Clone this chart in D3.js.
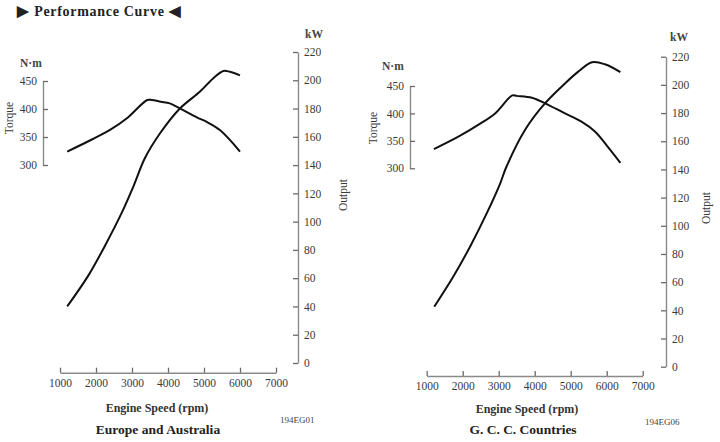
<!DOCTYPE html>
<html>
<head>
<meta charset="utf-8">
<script src="https://cdn.jsdelivr.net/npm/d3@7"></script>
<style>
  html, body { margin: 0; padding: 0; background: #fff; }
  svg { display: block; }
  text { font-family: "Liberation Serif", "Times New Roman", serif; fill: #3a3a3a; }
</style>
</head>
<body>
<svg id="chart" width="720" height="442"></svg>
<script>
// ---------- data ----------
const rpmTicks = [1000, 2000, 3000, 4000, 5000, 6000, 7000];
const torqueTicks = [300, 350, 400, 450];
const outputTicks = [0, 20, 40, 60, 80, 100, 120, 140, 160, 180, 200, 220];

// Europe and Australia
const euTorqueRpm = [1200, 1900, 2400, 2850, 3425, 3550, 3800, 4050, 4330, 4800, 5075, 5450, 6000];
const euTorque    = [324, 346, 363, 383, 416, 416, 413, 410, 401, 385, 377, 362, 324];
const euOutputRpm = [1200, 1790, 2250, 2710, 3040, 3360, 3780, 4330, 4890, 5260, 5540, 5720, 6000];
const euOutput    = [40, 62, 83, 106, 125, 145, 162.5, 180, 192, 201.5, 206.6, 206, 203.5];

// G. C. C. Countries
const gccTorqueRpm = [1200, 1880, 2430, 2900, 3380, 3500, 3920, 4290, 4840, 5300, 5680, 6020, 6380];
const gccTorque    = [335, 357.6, 379, 400, 433, 432, 428.7, 418.5, 400, 385, 366.7, 340, 310];
const gccOutputRpm = [1210, 1740, 2200, 2670, 3040, 3200, 3730, 4290, 4840, 5210, 5590, 5950, 6380];
const gccOutput    = [42.6, 64, 85, 109, 130, 141, 168, 187, 201, 209.4, 216, 214.6, 209];

const panelTitles = ["Europe and Australia", "G. C. C. Countries"];
const panelCodes = ["194EG01", "194EG06"];

// ---------- layout ----------
const panels = [
  { x0: 60, x1: 276, xAxisY: 372.7, tAxisX: 43, t300: 165, t450: 81, pAxisX: 298, p0: 363, p220: 52,
    tRpm: euTorqueRpm, t: euTorque, pRpm: euOutputRpm, p: euOutput, title: panelTitles[0], code: panelCodes[0],
    nmX: 20, nmY: 67, torqueX: 13, torqueY: 118, kwX: 305, kwY: 38, outX: 347, outY: 195,
    esX: 157, esY: 412, titleX: 158, titleY: 434, codeX: 280, codeY: 423 },
  { x0: 426.7, x1: 642.7, xAxisY: 376, tAxisX: 410, t300: 168.3, t450: 86, pAxisX: 666, p0: 366.7, p220: 56.7,
    tRpm: gccTorqueRpm, t: gccTorque, pRpm: gccOutputRpm, p: gccOutput, title: panelTitles[1], code: panelCodes[1],
    nmX: 382, nmY: 70, torqueX: 377, torqueY: 128, kwX: 670, kwY: 41, outX: 710, outY: 208,
    esX: 527, esY: 413, titleX: 523, titleY: 434, codeX: 645, codeY: 425 }
];

const svg = d3.select("#chart");

// Title
const title = svg.append("text")
  .attr("x", 17).attr("y", 16)
  .attr("font-size", 14).attr("font-weight", "bold")
  .style("fill", "#222").style("letter-spacing", "0.7px");
title.append("tspan").text("\u25B6 ").attr("font-size", 15);
title.append("tspan").text("Performance Curve ");
title.append("tspan").text("\u25C0").attr("font-size", 15);

function styleAxis(g) {
  g.selectAll("path.domain").attr("stroke", "#8a8a8a").attr("stroke-width", 1.4);
  g.selectAll(".tick line").attr("stroke", "#6a6a6a").attr("stroke-width", 1.3);
  g.selectAll(".tick text").attr("font-family", "Liberation Serif, serif").attr("font-size", 11.5).style("fill", "#3a3a3a");
}

panels.forEach(P => {
  const x = d3.scaleLinear().domain([1000, 7000]).range([P.x0, P.x1]);
  const yT = d3.scaleLinear().domain([300, 450]).range([P.t300, P.t450]);
  const yP = d3.scaleLinear().domain([0, 220]).range([P.p0, P.p220]);

  const g = svg.append("g");

  // x axis (ticks pointing up)
  const gx = g.append("g").attr("transform", `translate(0,${P.xAxisY})`)
    .call(d3.axisBottom(x).tickValues(rpmTicks).tickFormat(d3.format("d"))
      .tickSizeInner(-5).tickSizeOuter(0).tickPadding(6));
  styleAxis(gx);

  // torque axis (left, ticks inward)
  const gt = g.append("g").attr("transform", `translate(${P.tAxisX},0)`)
    .call(d3.axisLeft(yT).tickValues(torqueTicks).tickSizeInner(-5).tickSizeOuter(0).tickPadding(6));
  styleAxis(gt);

  // output axis (right, ticks inward)
  const gp = g.append("g").attr("transform", `translate(${P.pAxisX},0)`)
    .call(d3.axisRight(yP).tickValues(outputTicks).tickSizeInner(-5).tickSizeOuter(0).tickPadding(6));
  styleAxis(gp);

  // curves
  const curve = d3.curveCatmullRom.alpha(0.5);
  const lineT = d3.line().x(d => x(d[0])).y(d => yT(d[1])).curve(curve);
  const lineP = d3.line().x(d => x(d[0])).y(d => yP(d[1])).curve(curve);
  g.append("path").datum(d3.zip(P.tRpm, P.t)).attr("d", lineT)
    .attr("fill", "none").attr("stroke", "#111").attr("stroke-width", 2).attr("stroke-linejoin", "round");
  g.append("path").datum(d3.zip(P.pRpm, P.p)).attr("d", lineP)
    .attr("fill", "none").attr("stroke", "#111").attr("stroke-width", 2).attr("stroke-linejoin", "round");

  // unit labels
  g.append("text").attr("x", P.nmX).attr("y", P.nmY).attr("font-size", 11.5).attr("font-weight", "bold").style("fill", "#444").text("N\u00B7m");
  g.append("text").attr("x", P.kwX).attr("y", P.kwY).attr("font-size", 11.5).attr("font-weight", "bold").style("fill", "#444").text("kW");
  g.append("text").attr("transform", `translate(${P.torqueX},${P.torqueY}) rotate(-90)`)
    .attr("text-anchor", "middle").attr("font-size", 11.5).text("Torque");
  g.append("text").attr("transform", `translate(${P.outX},${P.outY}) rotate(-90)`)
    .attr("text-anchor", "middle").attr("font-size", 11.5).text("Output");

  g.append("text").attr("x", P.esX).attr("y", P.esY).attr("text-anchor", "middle")
    .attr("font-size", 12).attr("font-weight", "bold").style("fill", "#333").text("Engine Speed (rpm)");
  g.append("text").attr("x", P.titleX).attr("y", P.titleY).attr("text-anchor", "middle")
    .attr("font-size", 13.5).attr("font-weight", "bold").style("fill", "#222").text(P.title);
  g.append("text").attr("x", P.codeX).attr("y", P.codeY)
    .attr("font-size", 9).style("fill", "#444").text(P.code);
});
</script>
</body>
</html>
